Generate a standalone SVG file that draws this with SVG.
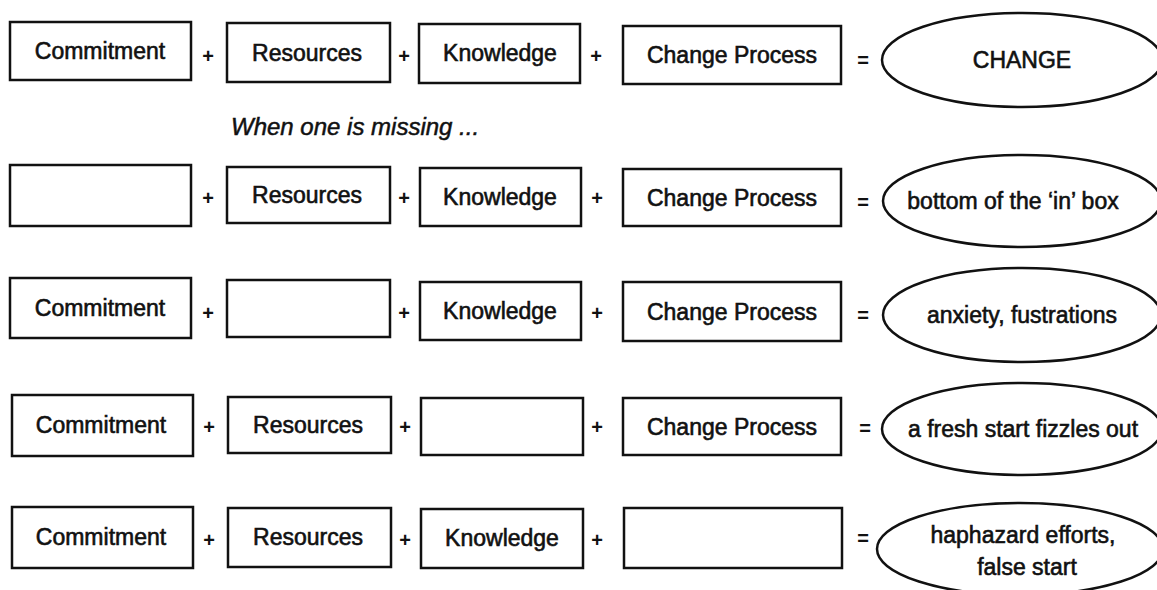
<svg xmlns="http://www.w3.org/2000/svg" width="1157" height="590" viewBox="0 0 1157 590">
<style>
.box{fill:#fff;stroke:#111;stroke-width:2.5}
.ell{fill:#fff;stroke:#111;stroke-width:2.5}
.t{font-family:"Liberation Sans",Arial,sans-serif;font-size:23px;fill:#111;stroke:#111;stroke-width:0.6;text-anchor:middle}
.op{font-family:"Liberation Sans",Arial,sans-serif;font-size:20px;font-weight:bold;fill:#111;text-anchor:middle}
.it{font-family:"Liberation Sans",Arial,sans-serif;font-size:24px;font-style:italic;fill:#111;stroke:#111;stroke-width:0.5}
</style>
<rect width="1157" height="590" fill="#fff"/>

<!-- Row 1 -->
<g id="r1-commitment"><rect class="box" x="10" y="22" width="181" height="58"/><text class="t" x="100" y="59">Commitment</text></g>
<g id="r1-resources"><rect class="box" x="227" y="23" width="163" height="59"/><text class="t" x="307" y="61">Resources</text></g>
<g id="r1-knowledge"><rect class="box" x="419" y="24" width="161" height="59"/><text class="t" x="500" y="61">Knowledge</text></g>
<g id="r1-process"><rect class="box" x="623" y="26" width="218" height="58"/><text class="t" x="732" y="63">Change Process</text></g>
<g id="r1-result"><ellipse class="ell" cx="1022" cy="60" rx="140" ry="47"/><text class="t" x="1022" y="68">CHANGE</text></g>

<text id="caption" class="it" x="231" y="135">When one is missing ...</text>

<!-- Row 2 -->
<g id="r2-commitment"><rect class="box" x="10" y="165" width="181" height="61"/></g>
<g id="r2-resources"><rect class="box" x="227" y="167" width="163" height="56"/><text class="t" x="307" y="203">Resources</text></g>
<g id="r2-knowledge"><rect class="box" x="420" y="168" width="161" height="58"/><text class="t" x="500" y="205">Knowledge</text></g>
<g id="r2-process"><rect class="box" x="623" y="169" width="218" height="57"/><text class="t" x="732" y="206">Change Process</text></g>
<g id="r2-result"><ellipse class="ell" cx="1022" cy="201" rx="139" ry="46"/><text class="t" x="1013" y="209">bottom of the ‘in’ box</text></g>

<!-- Row 3 -->
<g id="r3-commitment"><rect class="box" x="10" y="278" width="181" height="60"/><text class="t" x="100" y="316">Commitment</text></g>
<g id="r3-resources"><rect class="box" x="227" y="280" width="163" height="57"/></g>
<g id="r3-knowledge"><rect class="box" x="420" y="282" width="161" height="58"/><text class="t" x="500" y="319">Knowledge</text></g>
<g id="r3-process"><rect class="box" x="623" y="282" width="218" height="59"/><text class="t" x="732" y="320">Change Process</text></g>
<g id="r3-result"><ellipse class="ell" cx="1022" cy="315" rx="139" ry="47"/><text class="t" x="1022" y="323">anxiety, fustrations</text></g>

<!-- Row 4 -->
<g id="r4-commitment"><rect class="box" x="12" y="395" width="181" height="61"/><text class="t" x="101" y="433">Commitment</text></g>
<g id="r4-resources"><rect class="box" x="228" y="397" width="163" height="56"/><text class="t" x="308" y="433">Resources</text></g>
<g id="r4-knowledge"><rect class="box" x="421" y="398" width="162" height="57"/></g>
<g id="r4-process"><rect class="box" x="623" y="398" width="218" height="57"/><text class="t" x="732" y="435">Change Process</text></g>
<g id="r4-result"><ellipse class="ell" cx="1022" cy="429" rx="140" ry="46"/><text class="t" x="1023" y="437">a fresh start fizzles out</text></g>

<!-- Row 5 -->
<g id="r5-commitment"><rect class="box" x="12" y="507" width="181" height="61"/><text class="t" x="101" y="545">Commitment</text></g>
<g id="r5-resources"><rect class="box" x="228" y="508" width="163" height="59"/><text class="t" x="308" y="545">Resources</text></g>
<g id="r5-knowledge"><rect class="box" x="421" y="509" width="162" height="59"/><text class="t" x="502" y="546">Knowledge</text></g>
<g id="r5-process"><rect class="box" x="624" y="508" width="218" height="60"/></g>
<g id="r5-result"><ellipse class="ell" cx="1020" cy="549" rx="143" ry="46"/><text class="t" x="1023" y="543">haphazard efforts,</text><text class="t" x="1027" y="575">false start</text></g>

<!-- operators -->
<g id="connectors">
<text class="op" x="208" y="63">+</text><text class="op" x="404" y="63">+</text><text class="op" x="596" y="63">+</text><text class="op" x="863" y="67">=</text>
<text class="op" x="208" y="205">+</text><text class="op" x="404" y="205">+</text><text class="op" x="597" y="205">+</text><text class="op" x="863" y="209">=</text>
<text class="op" x="208" y="320">+</text><text class="op" x="404" y="320">+</text><text class="op" x="597" y="320">+</text><text class="op" x="863" y="322">=</text>
<text class="op" x="209" y="434">+</text><text class="op" x="405" y="434">+</text><text class="op" x="597" y="434">+</text><text class="op" x="865" y="435">=</text>
<text class="op" x="209" y="547">+</text><text class="op" x="405" y="547">+</text><text class="op" x="597" y="547">+</text><text class="op" x="863" y="545">=</text>
</g>
</svg>
